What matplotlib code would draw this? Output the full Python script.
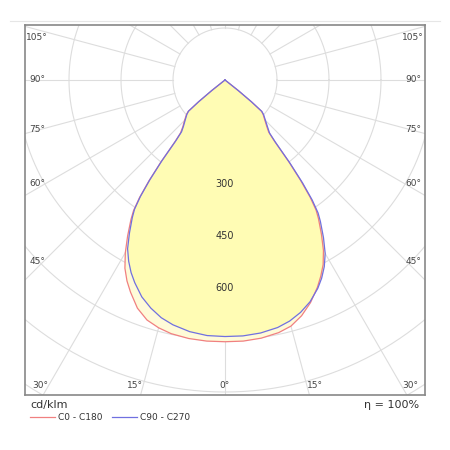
import numpy as np
import matplotlib
matplotlib.use("Agg")
import matplotlib.pyplot as plt

# Intensities (cd/klm) vs gamma angle (deg)
angles = [0, 4, 8, 12, 15, 18, 21, 24, 26, 28, 30, 32, 34, 35, 36, 37, 38, 39, 40, 42, 45, 48, 49.5, 50.5, 51.5, 52.5, 60, 90]
c0_left   = [755, 755, 753, 748, 740, 728, 705, 670, 645, 615, 575, 530, 485, 460, 420, 365, 300, 230, 200, 182, 165, 150, 140, 100, 50, 3, 0, 0]
c0_right  = [755, 755, 752, 745, 735, 715, 688, 655, 630, 603, 568, 525, 482, 458, 418, 362, 298, 226, 196, 180, 162, 148, 138, 98, 48, 3, 0, 0]
c90_left  = [740, 739, 733, 722, 710, 692, 670, 640, 618, 592, 562, 520, 478, 455, 415, 360, 296, 225, 195, 179, 162, 148, 138, 98, 48, 3, 0, 0]
c90_right = [740, 740, 737, 730, 720, 705, 685, 658, 636, 610, 578, 536, 492, 468, 428, 372, 305, 232, 200, 184, 165, 150, 140, 100, 50, 3, 0, 0]
ring_values = [300, 450, 600]
legend_labels = ["C0 - C180", "C90 - C270"]

S = 52 / 150.0  # px per cd

def curve(left, right):
    a = np.radians(angles)
    l = np.array(left) * S
    r = np.array(right) * S
    xl, yl = -l * np.sin(a), -l * np.cos(a)
    xr, yr = r * np.sin(a), -r * np.cos(a)
    x = np.concatenate([xl[::-1], xr[1:]])
    y = np.concatenate([yl[::-1], yr[1:]])
    return x, y

fig = plt.figure(figsize=(4.5, 4.5), dpi=100)
ax = fig.add_axes([25/450, 55/450, 400/450, 370/450])
ax.set_xlim(-200, 200)
ax.set_ylim(-315, 55)
ax.set_xticks([]); ax.set_yticks([])
for s in ax.spines.values():
    s.set_color("#888888"); s.set_linewidth(1.2)

gc = "#dddddd"
t = np.linspace(0, 2*np.pi, 400)
for cd in range(150, 1500, 150):
    r = cd * S
    ax.plot(r*np.cos(t), r*np.sin(t), color=gc, lw=0.8, zorder=1)
for a in range(0, 360, 15):
    ar = np.radians(a)
    r0, r1 = 150*S, 800
    ax.plot([r0*np.sin(ar), r1*np.sin(ar)], [-r0*np.cos(ar), -r1*np.cos(ar)], color=gc, lw=0.8, zorder=1)

xr_, yr_ = curve(c0_left, c0_right)
xb_, yb_ = curve(c90_left, c90_right)
ax.fill(xr_, yr_, color="#fffbd8", zorder=2, lw=0)
ax.fill(xb_, yb_, color="#fffcb4", zorder=3, lw=0)
ax.plot(xr_, yr_, color="#f08080", lw=0.9, zorder=4)
ax.plot(xb_, yb_, color="#7070e0", lw=0.9, zorder=5)

for v in ring_values:
    ax.text(0, -v*S, str(v), ha="center", va="center", fontsize=7, color="#333333", zorder=6)

lab = [("105°", -188, 42), ("90°", -188, 0), ("75°", -188, -49), ("60°", -188, -104),
       ("45°", -188, -181), ("30°", -185, -305), ("15°", -90, -305), ("0°", 0, -305),
       ("15°", 90, -305), ("30°", 185, -305), ("45°", 188, -181), ("60°", 188, -104),
       ("75°", 188, -49), ("90°", 188, 0), ("105°", 188, 42)]
for s, x, y in lab:
    ax.text(x, y, s, ha="center", va="center", fontsize=6.5, color="#444444", zorder=6)

fig.add_artist(plt.Line2D([10/450, 440/450], [1-21/450, 1-21/450], color="#e6e6e6", lw=0.8))
fig.text(30/450, 1-405/450, "cd/klm", fontsize=8, color="#333333", va="center")
fig.text(419/450, 1-405/450, "η = 100%", fontsize=8, color="#333333", va="center", ha="right")
y = 1-417/450
fig.add_artist(plt.Line2D([30/450, 55/450], [y, y], color="#f08080", lw=0.9))
fig.text(58/450, y, legend_labels[0], fontsize=6.5, color="#333333", va="center")
fig.add_artist(plt.Line2D([112/450, 137/450], [y, y], color="#7070e0", lw=0.9))
fig.text(140/450, y, legend_labels[1], fontsize=6.5, color="#333333", va="center")

fig.savefig("out.png", dpi=100, facecolor="white")
